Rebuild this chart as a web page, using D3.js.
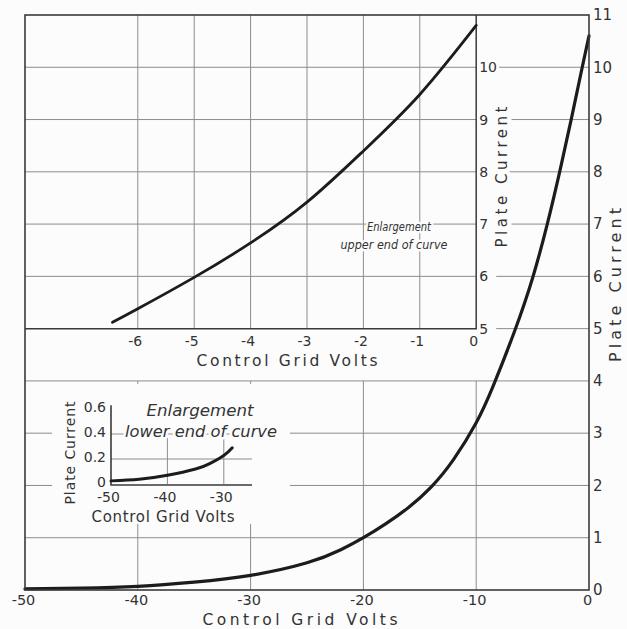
<!DOCTYPE html>
<html><head><meta charset="utf-8">
<script src="https://cdn.jsdelivr.net/npm/d3@7"></script>
<style>
html,body{margin:0;padding:0;background:#fcfcfc;}
svg{display:block;}
text{fill:#333;font-family:"DejaVu Sans",sans-serif;}
.halo{paint-order:stroke;stroke:#fcfcfc;stroke-linejoin:round;}
</style></head>
<body>
<svg id="chart" width="627" height="629"></svg>
<script>
// ---- Data ----
const mainVolts   = [-50, -45, -40, -35, -30, -25, -22, -20, -18, -16, -14, -12, -10, -8.5, -6.6, -5.0, -3.7, -2.6, -1.58, -0.6, 0];
const mainCurrent = [0.02, 0.035, 0.07, 0.15, 0.28, 0.52, 0.77, 1.0, 1.27, 1.58, 1.97, 2.5, 3.2, 3.9, 4.95, 5.97, 7.0, 8.0, 9.0, 10.0, 10.6];

const upperVolts   = [-6.45, -6, -5, -4, -3, -2, -1, 0];
const upperCurrent = [5.12, 5.38, 5.98, 6.64, 7.42, 8.4, 9.48, 10.8];

const lowerVolts   = [-50, -45, -40, -35, -32.5, -30, -28.5];
const lowerCurrent = [0.025, 0.038, 0.07, 0.12, 0.163, 0.228, 0.29];

const mainXTicks  = [-50, -40, -30, -20, -10, 0];
const mainYTicks  = [0, 1, 2, 3, 4, 5, 6, 7, 8, 9, 10, 11];
const upperXTicks = [-6, -5, -4, -3, -2, -1, 0];
const upperYTicks = [5, 6, 7, 8, 9, 10];
const lowerXTicks = [-50, -40, -30];
const lowerYTicks = [0, 0.2, 0.4, 0.6];
const lowerYLabels = ["0", "0.2", "0.4", "0.6"];

const xTitle = "Control Grid Volts";
const yTitle = "Plate Current";
const upperNote = ["Enlargement", "upper end of curve"];
const lowerNote = ["Enlargement", "lower end of curve"];

// ---- Layout ----
const svg = d3.select("#chart");
const gridC = "#8c8c8c", frameC = "#3a3a3a", curveC = "#1c1c1c";

const x = d3.scaleLinear().domain([-50, 0]).range([25, 589]);
const y = d3.scaleLinear().domain([0, 11]).range([590, 15]);
const xu = d3.scaleLinear().domain([-8, 0]).range([x(-50), x(-10)]);
const yu = y; // same current scale (5..11)
const xl = d3.scaleLinear().domain([-50, -25]).range([111, 252]);
const yl = d3.scaleLinear().domain([0, 0.6]).range([484, 409]);

const line = (xs, ys) => d3.line().x(d => xs(d[0])).y(d => ys(d[1])).curve(d3.curveNatural);

// ---- Main grid ----
const g = svg.append("g");
g.selectAll(".mv").data(mainXTicks.filter(v => v > -50 && v < 0)).join("line")
  .attr("x1", d => x(d)).attr("x2", d => x(d)).attr("y1", y(0)).attr("y2", y(4))
  .attr("stroke", gridC).attr("stroke-width", 1);
g.selectAll(".mh").data(mainYTicks.filter(v => v >= 1 && v <= 4)).join("line")
  .attr("x1", x(-50)).attr("x2", x(0)).attr("y1", d => y(d)).attr("y2", d => y(d))
  .attr("stroke", gridC).attr("stroke-width", 1);
g.selectAll(".mh2").data(mainYTicks.filter(v => v >= 5 && v <= 10)).join("line")
  .attr("x1", xu(0) + 20).attr("x2", x(0)).attr("y1", d => y(d)).attr("y2", d => y(d))
  .attr("stroke", gridC).attr("stroke-width", 1);

// ---- Upper inset grid ----
g.selectAll(".uv").data(upperXTicks.filter(v => v < 0)).join("line")
  .attr("x1", d => xu(d)).attr("x2", d => xu(d)).attr("y1", yu(5)).attr("y2", yu(11))
  .attr("stroke", gridC).attr("stroke-width", 1);
g.selectAll(".uh").data(upperYTicks.filter(v => v > 5)).join("line")
  .attr("x1", xu(-8)).attr("x2", xu(0)).attr("y1", d => yu(d)).attr("y2", d => yu(d))
  .attr("stroke", gridC).attr("stroke-width", 1);

// ---- Main curve ----
svg.append("path").datum(mainVolts.map((v, i) => [v, mainCurrent[i]]))
  .attr("d", line(x, y)).attr("fill", "none").attr("stroke", curveC).attr("stroke-width", 3.2)
  .attr("stroke-linecap", "round");

// ---- Frames ----
svg.append("rect").attr("x", x(-50)).attr("y", y(11)).attr("width", x(0) - x(-50)).attr("height", y(0) - y(11))
  .attr("fill", "none").attr("stroke", frameC).attr("stroke-width", 1.6);
svg.append("polyline").attr("points", [[xu(0), yu(11)], [xu(0), yu(5)], [xu(-8), yu(5)]].join(" "))
  .attr("fill", "none").attr("stroke", frameC).attr("stroke-width", 1.5);

// ---- Upper inset curve ----
svg.append("path").datum(upperVolts.map((v, i) => [v, upperCurrent[i]]))
  .attr("d", line(xu, yu)).attr("fill", "none").attr("stroke", curveC).attr("stroke-width", 2.8)
  .attr("stroke-linecap", "round");

// ---- Lower inset (white panel) ----
svg.append("rect").attr("x", 52).attr("y", y(4) + 3).attr("width", 238).attr("height", 140).attr("fill", "#fcfcfc");
const lg = svg.append("g");
lg.selectAll(".lv").data(lowerXTicks.filter(v => v > -50)).join("line")
  .attr("x1", d => xl(d)).attr("x2", d => xl(d)).attr("y1", yl(0)).attr("y2", yl(0.37))
  .attr("stroke", gridC).attr("stroke-width", 1);
lg.selectAll(".lh").data(lowerYTicks.filter(v => v > 0 && v < 0.6)).join("line")
  .attr("x1", xl(-50)).attr("x2", xl(-25)).attr("y1", d => yl(d)).attr("y2", d => yl(d))
  .attr("stroke", gridC).attr("stroke-width", 1);
lg.append("polyline").attr("points", [[xl(-50), yl(0.63)], [xl(-50), yl(0) + 1], [xl(-25), yl(0) + 1]].join(" "))
  .attr("fill", "none").attr("stroke", frameC).attr("stroke-width", 1.6);
lg.append("path").datum(lowerVolts.map((v, i) => [v, lowerCurrent[i]]))
  .attr("d", line(xl, yl)).attr("fill", "none").attr("stroke", curveC).attr("stroke-width", 3)
  .attr("stroke-linecap", "round");

// ---- Axes (tick labels) ----
function styleAxis(sel, size, fam) {
  sel.select(".domain").remove();
  sel.selectAll(".tick line").remove();
  sel.selectAll("text").attr("font-family", fam || "DejaVu Sans, sans-serif").attr("font-size", size).attr("fill", "#333");
}
const neg = d => d === 0 ? "0" : "-" + Math.abs(d);
svg.append("g").attr("transform", `translate(-2,${y(0) + 1})`)
  .call(d3.axisBottom(x).tickValues(mainXTicks).tickSize(0).tickPadding(4).tickFormat(neg))
  .call(s => styleAxis(s, 14.5));
svg.append("g").attr("transform", `translate(${x(0) + 1},0)`)
  .call(d3.axisRight(y).tickValues(mainYTicks).tickSize(0).tickPadding(3).tickFormat(d3.format("d")))
  .call(s => styleAxis(s, 15));
svg.append("g").attr("transform", `translate(-3,${yu(5) + 2})`)
  .call(d3.axisBottom(xu).tickValues(upperXTicks).tickSize(0).tickPadding(5).tickFormat(neg))
  .call(s => styleAxis(s, 14));
svg.append("g").attr("transform", `translate(${xu(0) + 1},0)`)
  .call(d3.axisRight(yu).tickValues(upperYTicks).tickSize(0).tickPadding(2).tickFormat(d3.format("d")))
  .call(s => styleAxis(s, 14))
  .call(s => s.selectAll("text").classed("halo", true).attr("stroke-width", 6));
svg.append("g").attr("transform", `translate(${xl(-50) - 3},-2)`)
  .call(d3.axisLeft(yl).tickValues(lowerYTicks).tickSize(0).tickPadding(2).tickFormat((d, i) => lowerYLabels[i]))
  .call(s => styleAxis(s, 14, "Liberation Sans, sans-serif"))
  .call(s => s.selectAll("text").classed("halo", true).attr("stroke-width", 4));
svg.append("g").attr("transform", `translate(-3,${yl(0) + 4})`)
  .call(d3.axisBottom(xl).tickValues(lowerXTicks).tickSize(0).tickPadding(4).tickFormat(d => "-" + Math.abs(d)))
  .call(s => styleAxis(s, 14, "Liberation Sans, sans-serif"));

// ---- Titles ----
function title(txt, cx, cy, len, size, rot, extra, adj) {
  const t = svg.append("text").text(txt)
    .attr("text-anchor", "middle")
    .attr("font-size", size)
    .attr("textLength", len).attr("lengthAdjust", adj || "spacing")
    .attr("transform", `translate(${cx},${cy})` + (rot ? ` rotate(${rot})` : ""));
  if (extra) extra(t);
  return t;
}
const lib = t => t.attr("font-family", "Liberation Sans, sans-serif");
title(xTitle, 300, 625, 195, 15.5, 0);
title(xTitle, 287, 366, 181, 15.5, 0);
title(xTitle, 163, 522, 143, 15, 0, lib);
title(yTitle, 621, 285, 154, 16, -90);
title(yTitle, 507, 177, 141, 15, -90, t => t.classed("halo", true).attr("stroke-width", 9));
title(yTitle, 75, 453, 103, 14, -90, lib);

// notes (italic)
const ital = t => t.attr("font-family", "Liberation Sans, sans-serif").attr("font-style", "italic").classed("halo", true).attr("stroke-width", 5);
title(upperNote[0], 399, 231, 64, 12.5, 0, ital, "spacingAndGlyphs");
title(upperNote[1], 394, 249, 107, 12.5, 0, ital, "spacingAndGlyphs");
title(lowerNote[0], 200, 416, 107, 15, 0, ital, "spacingAndGlyphs");
title(lowerNote[1], 201, 437, 152, 15, 0, ital, "spacingAndGlyphs");
</script>
</body></html>
